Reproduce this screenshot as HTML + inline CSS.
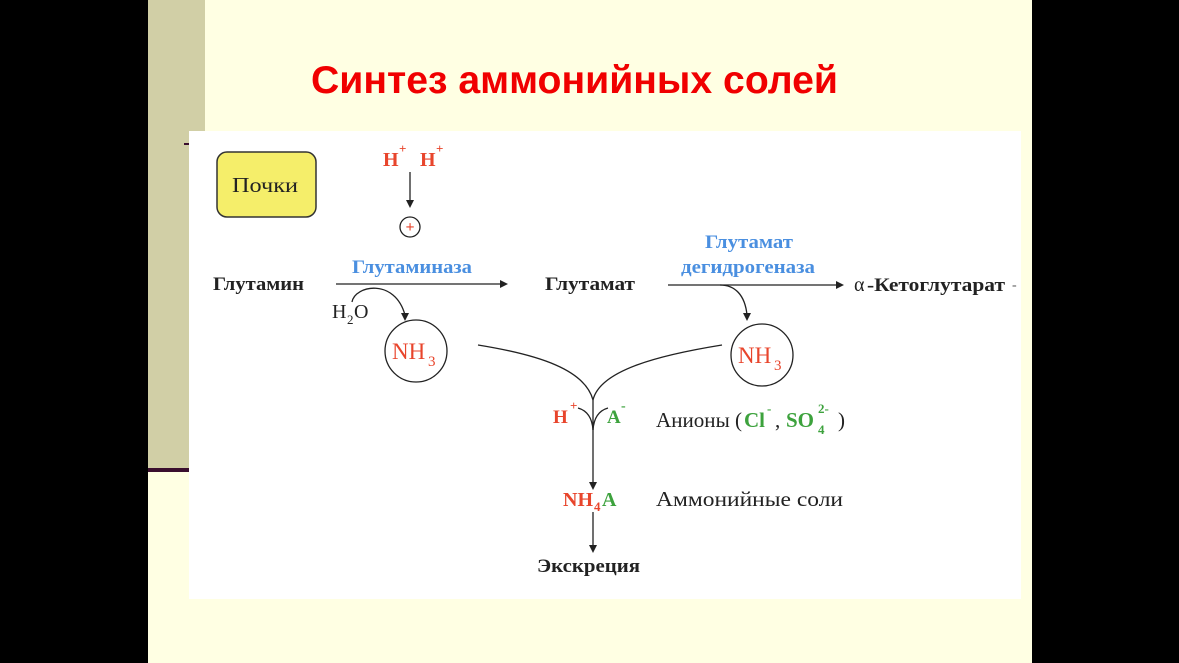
<!DOCTYPE html>
<html><head><meta charset="utf-8"><style>
html,body{margin:0;padding:0;width:1179px;height:663px;overflow:hidden;background:#000}
</style></head><body>
<svg width="1179" height="663" viewBox="0 0 1179 663" xmlns="http://www.w3.org/2000/svg" style="display:block">
<rect x="0" y="0" width="1179" height="663" fill="#000"/>
<rect x="148" y="0" width="884" height="663" fill="#FFFFE3"/>
<rect x="148" y="0" width="57" height="470" fill="#D1CFA6"/>
<rect x="148" y="468" width="50" height="4" fill="#3A0F2E"/>
<rect x="184" y="143" width="6" height="2" fill="#3A0F2E"/>
<text x="311" y="93" textLength="527" lengthAdjust="spacingAndGlyphs" font-family="Liberation Sans, sans-serif" font-weight="bold" font-size="39" fill="#F00000">Синтез аммонийных солей</text>
<rect x="189" y="131" width="832" height="468" fill="#fff"/>
<g font-family="Liberation Serif, serif">
<rect x="217" y="152" width="99" height="65" rx="10" fill="#F5EE6A" stroke="#333" stroke-width="1.5"/>
<text x="232" y="192" textLength="66" lengthAdjust="spacingAndGlyphs" font-size="21" fill="#222">Почки</text>
<text x="383" y="166" font-size="20" font-weight="bold" fill="#E8452C">H</text><text x="399" y="153" font-size="13" font-weight="bold" fill="#E8452C">+</text>
<text x="420" y="166" font-size="20" font-weight="bold" fill="#E8452C">H</text><text x="436" y="153" font-size="13" font-weight="bold" fill="#E8452C">+</text>
<g stroke="#222" stroke-width="1.3" fill="none">
<line x1="410" y1="172" x2="410" y2="202"/>
<circle cx="410" cy="227" r="10"/>
<line x1="336" y1="284" x2="500" y2="284"/>
<path d="M352,302 C355,285 395,278 405,315"/>
<circle cx="416" cy="351" r="31"/>
<line x1="668" y1="285" x2="836" y2="285"/>
<path d="M720,285 C735,285 745,295 747,315"/>
<circle cx="762" cy="355" r="31"/>
<path d="M478,345 C540,355 585,370 593,400"/>
<path d="M722,345 C660,355 600,370 593,400"/>
<path d="M578,408 C585,410 592,415 593,430"/>
<path d="M608,408 C601,410 594,415 593,430"/>
<line x1="593" y1="400" x2="593" y2="482"/>
<line x1="593" y1="512" x2="593" y2="545"/>
</g>
<g fill="#222">
<polygon points="406,200 414,200 410,208"/>
<polygon points="500,280 508,284 500,288"/>
<polygon points="401,313 409,313 405,321"/>
<polygon points="836,281 844,285 836,289"/>
<polygon points="743,313 751,313 747,321"/>
<polygon points="589,482 597,482 593,490"/>
<polygon points="589,545 597,545 593,553"/>
</g>
<text x="410" y="232" text-anchor="middle" font-size="16" font-weight="bold" fill="#E8452C">+</text>
<text x="352" y="273" textLength="120" lengthAdjust="spacingAndGlyphs" font-size="19" font-weight="bold" fill="#4A8FE0">Глутаминаза</text>
<text x="213" y="290" textLength="91" lengthAdjust="spacingAndGlyphs" font-size="19" font-weight="bold" fill="#222">Глутамин</text>
<text x="332" y="318" font-size="20" fill="#222">H</text><text x="347" y="324" font-size="13" fill="#222">2</text><text x="354" y="318" font-size="20" fill="#222">O</text>
<text x="392" y="359" font-size="23" fill="#E8452C">NH</text><text x="428" y="366" font-size="15" fill="#E8452C">3</text>
<text x="545" y="290" textLength="90" lengthAdjust="spacingAndGlyphs" font-size="19" font-weight="bold" fill="#222">Глутамат</text>
<text x="705" y="248" textLength="88" lengthAdjust="spacingAndGlyphs" font-size="19" font-weight="bold" fill="#4A8FE0">Глутамат</text>
<text x="681" y="273" textLength="134" lengthAdjust="spacingAndGlyphs" font-size="19" font-weight="bold" fill="#4A8FE0">дегидрогеназа</text>
<text x="738" y="363" font-size="23" fill="#E8452C">NH</text><text x="774" y="370" font-size="15" fill="#E8452C">3</text>
<text x="854" y="291" font-size="20" fill="#222">α</text>
<text x="867" y="291" textLength="138" lengthAdjust="spacingAndGlyphs" font-size="19" font-weight="bold" fill="#222">-Кетоглутарат</text>
<text x="1012" y="289" font-size="14" fill="#555">-</text>
<text x="553" y="423" font-size="19" font-weight="bold" fill="#E8452C">H</text><text x="570" y="410" font-size="13" font-weight="bold" fill="#E8452C">+</text>
<text x="607" y="423" font-size="19" font-weight="bold" fill="#3DA23D">A</text><text x="621" y="410" font-size="14" font-weight="bold" fill="#3DA23D">-</text>
<text x="656" y="427" textLength="86" lengthAdjust="spacingAndGlyphs" font-size="21" fill="#222">Анионы (</text>
<text x="744" y="427" font-size="21" font-weight="bold" fill="#3DA23D">Cl</text>
<text x="767" y="413" font-size="13" font-weight="bold" fill="#3DA23D">-</text>
<text x="775" y="427" font-size="21" fill="#222">,</text>
<text x="786" y="427" font-size="21" font-weight="bold" fill="#3DA23D">SO</text>
<text x="818" y="434" font-size="13" font-weight="bold" fill="#3DA23D">4</text>
<text x="818" y="413" font-size="13" font-weight="bold" fill="#3DA23D">2-</text>
<text x="838" y="427" font-size="21" fill="#222">)</text>
<text x="563" y="506" font-size="20" font-weight="bold" fill="#E8452C">NH</text><text x="594" y="511" font-size="13" font-weight="bold" fill="#E8452C">4</text><text x="602" y="506" font-size="20" font-weight="bold" fill="#3DA23D">A</text>
<text x="656" y="506" textLength="187" lengthAdjust="spacingAndGlyphs" font-size="21" fill="#222">Аммонийные соли</text>
<text x="537" y="572" textLength="103" lengthAdjust="spacingAndGlyphs" font-size="19" font-weight="bold" fill="#222">Экскреция</text>
</g>
</svg>
</body></html>
